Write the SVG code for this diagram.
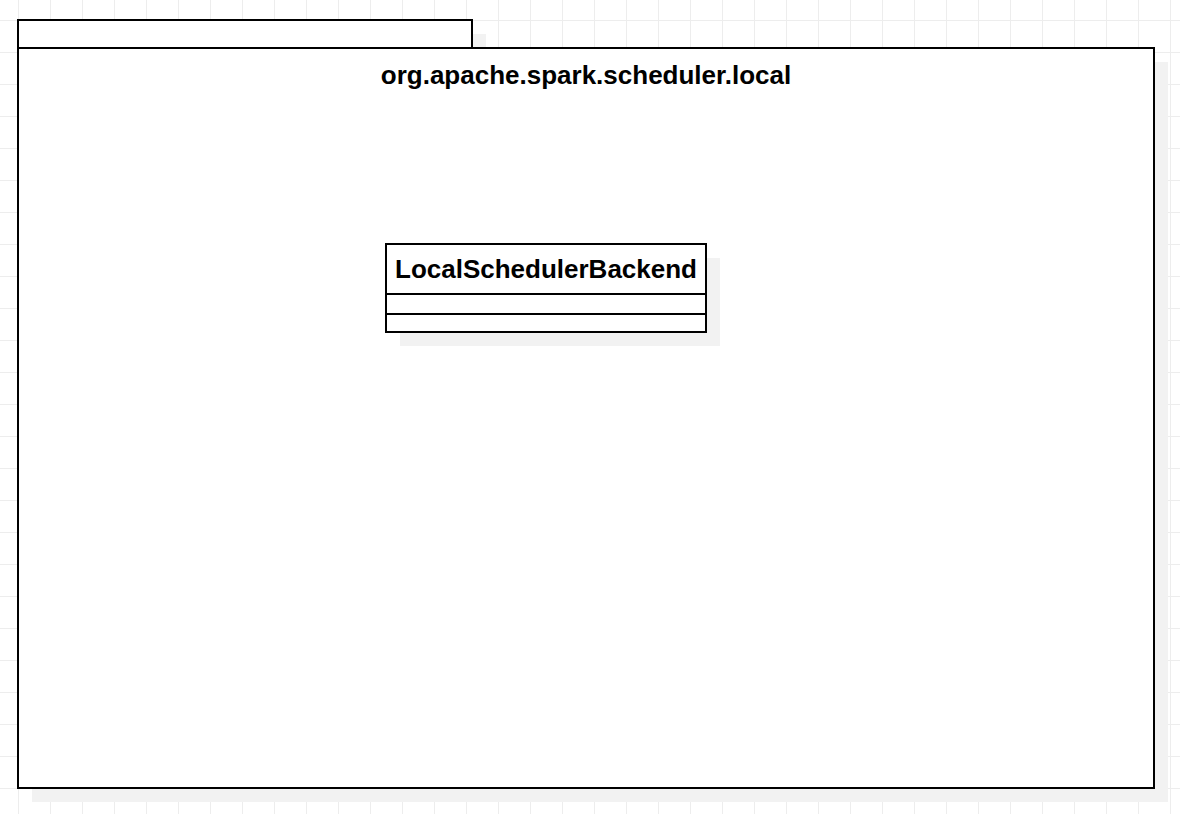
<svg xmlns="http://www.w3.org/2000/svg" width="1180" height="814" viewBox="0 0 1180 814">
  <defs>
    <pattern id="grid" x="18" y="20" width="32" height="32" patternUnits="userSpaceOnUse">
      <path d="M 0.5 0 V 32 M 0 0.5 H 32" fill="none" stroke="#ededed" stroke-width="1"/>
    </pattern>
    <style>
      .shape { fill: #ffffff; stroke: #000000; stroke-width: 2; }
      .shadow { fill: #f2f2f2; stroke: none; }
      .label { font-family: "Liberation Sans", Arial, sans-serif; font-weight: bold; font-size: 26px; fill: #000000; text-anchor: middle; }
      .divider { stroke: #000000; stroke-width: 2; fill: none; }
    </style>
  </defs>
  <rect width="1180" height="814" fill="#ffffff"/>
  <rect width="1180" height="814" fill="url(#grid)"/>

  <g id="package-org-apache-spark-scheduler-local">
    <rect class="shadow" x="32" y="34" width="454" height="28"/>
    <rect class="shadow" x="32" y="62" width="1136" height="740"/>
    <rect class="shape" x="18" y="20" width="454" height="28"/>
    <rect class="shape" x="18" y="48" width="1136" height="740"/>
    <text class="label" x="586" y="84">org.apache.spark.scheduler.local</text>
  </g>

  <g id="class-LocalSchedulerBackend">
    <rect class="shadow" x="400" y="258" width="320" height="88"/>
    <rect class="shape" x="386" y="244" width="320" height="88"/>
    <line class="divider" x1="386" y1="294" x2="706" y2="294"/>
    <line class="divider" x1="386" y1="314" x2="706" y2="314"/>
    <text class="label" x="546" y="278">LocalSchedulerBackend</text>
  </g>

  <g id="connectors"></g>
</svg>
